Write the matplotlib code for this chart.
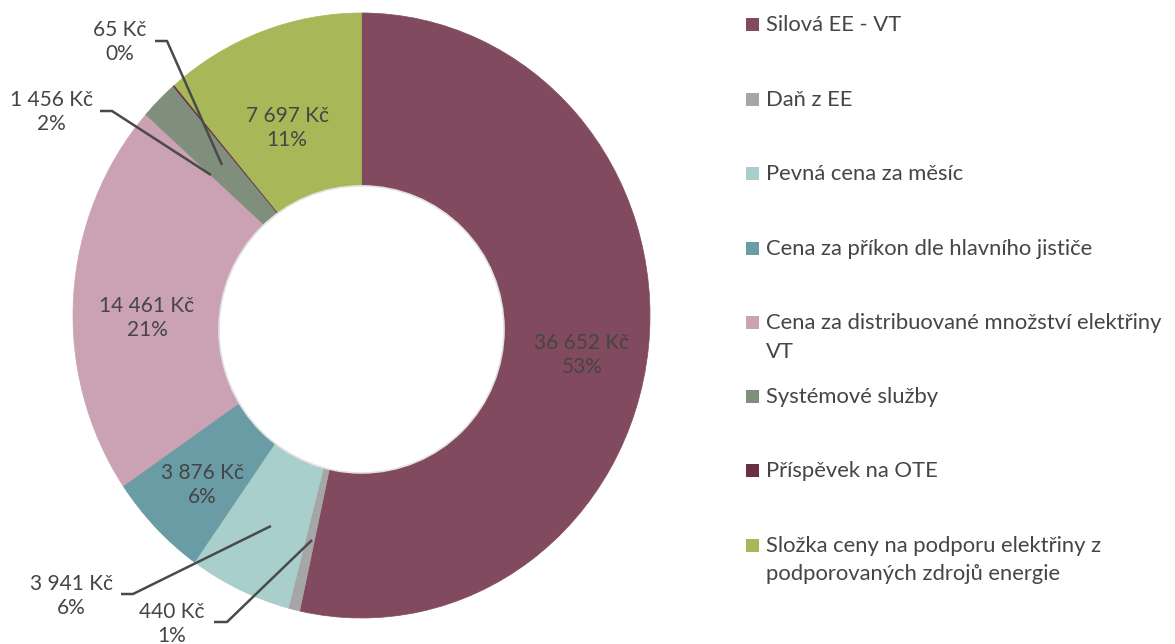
import matplotlib
matplotlib.use("Agg")
import matplotlib.pyplot as plt
from matplotlib.patches import Ellipse, Rectangle

# ---------------- data ----------------
categories = [
    "Silová EE - VT",
    "Daň z EE",
    "Pevná cena za měsíc",
    "Cena za příkon dle hlavního jističe",
    "Cena za distribuované množství elektřiny\nVT",
    "Systémové služby",
    "Příspěvek na OTE",
    "Složka ceny na podporu elektřiny z\npodporovaných zdrojů energie",
]
values = [36652, 440, 3941, 3876, 14461, 1456, 65, 7697]
colors = ["#814a5e", "#a6a6a6", "#a9cfcd", "#6a9ca6", "#cba2b3", "#7f8f7b", "#6b2f43", "#a8b858"]

# ---------------- layout (pixels, top-left origin) ----------------
W, H = 1175, 644
label_pos = [(582, 355), (172, 624), (71, 596), (202, 485), (147, 318), (51, 112), (120, 42), (287, 128)]
leader = {  # index: (text-side stub start, stub end, point in slice)
    1: [(214, 622), (227, 622), (312, 540)],
    2: [(121, 594), (133, 594), (271, 526)],
    5: [(100, 111), (112, 111), (211, 175)],
    6: [(155, 41), (167, 41), (222, 165)],
}
legend_baselines = [31, 106, 180, 255, 329, 403, 477, 552]
legend_line_gap = 28.5

FONT = ["Lato", "DejaVu Sans"]
TXT = "#454545"

fig = plt.figure(figsize=(W / 100, H / 100), dpi=100)
fig.patch.set_facecolor("white")

cx, cy, rx, ry = 361.5, 315.5, 288.5, 302.5
ax = fig.add_axes([(cx - rx) / W, 1 - (cy + ry) / H, 2 * rx / W, 2 * ry / H])
wedges, _ = ax.pie(values, colors=colors, startangle=90, counterclock=False, radius=1)
for w, c in zip(wedges, colors):
    w.set_edgecolor(c)
    w.set_linewidth(0.5)
ax.set_aspect("auto")
ax.set_xlim(-1, 1)
ax.set_ylim(-1, 1)
ax.axis("off")
# hole of the doughnut
ax.add_patch(Ellipse((0, -0.046), 0.988, 0.949, facecolor="white", edgecolor="#e2e2e2", linewidth=1.2, zorder=5))

# overlay axes in pixel coordinates
ov = fig.add_axes([0, 0, 1, 1])
ov.set_xlim(0, W)
ov.set_ylim(H, 0)
ov.axis("off")
ov.patch.set_alpha(0)

total = sum(values)
for i, v in enumerate(values):
    pct = int(v / total * 100 + 0.5)
    s = f"{v:,}".replace(",", " ") + " Kč\n" + f"{pct}%"
    x, y = label_pos[i]
    ov.text(x, y, s, ha="center", va="center", fontsize=15, color=TXT, family=FONT,
            linespacing=1.22)

for i, pts in leader.items():
    xs = [p[0] for p in pts]
    ys = [p[1] for p in pts]
    ov.plot(xs, ys, color="#4a4a4a", linewidth=1.8, solid_capstyle="butt")

# legend
for i, (name, c) in enumerate(zip(categories, colors)):
    b = legend_baselines[i]
    ov.add_patch(Rectangle((746, b - 13), 13, 13, facecolor=c, edgecolor="none"))
    for k, line in enumerate(name.split("\n")):
        ov.text(766, b + k * legend_line_gap, line, ha="left", va="baseline", fontsize=15.8,
                color=TXT, family=FONT)

fig.savefig("out.png", dpi=100, facecolor="white")
